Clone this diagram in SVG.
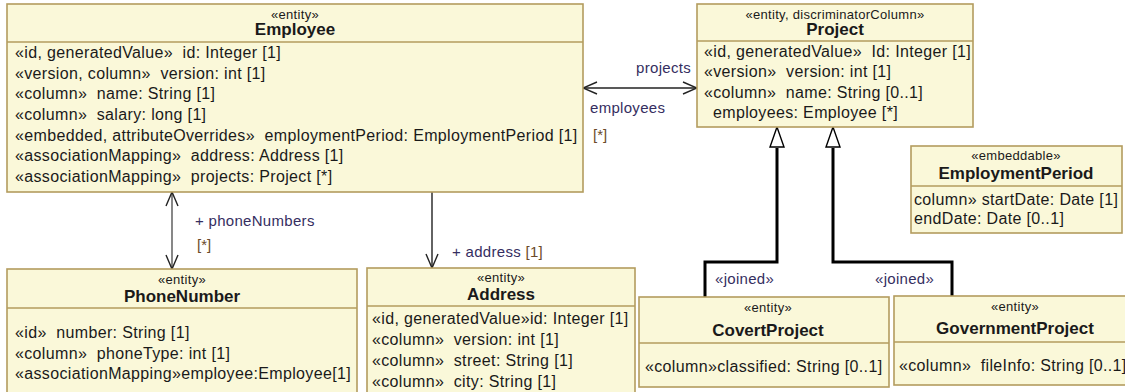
<svg xmlns="http://www.w3.org/2000/svg" width="1125" height="392" viewBox="0 0 1125 392" xml:space="preserve">
<style>
.box{fill:#FAF8D9;stroke:#B39C5E;stroke-width:1.6}
.sep{stroke:#B39C5E;stroke-width:1.4}
text{font-family:"Liberation Sans",Arial,sans-serif;fill:#1a1a1a;white-space:pre}
.st{font-size:13px;letter-spacing:0.3px;text-anchor:middle}
.ti{font-size:17px;font-weight:bold;text-anchor:middle}
.at{font-size:16px;letter-spacing:0.35px}
.lb{font-size:15px;fill:#352E5F;letter-spacing:0.3px}
.mu{font-size:15px;fill:#6B4A2A}
.assoc{stroke:#222;stroke-width:1.4;fill:none}
.gen{stroke:#000;stroke-width:3;fill:none}
</style>
<defs>
<marker id="open" viewBox="0 0 16 14" refX="15" refY="7" markerWidth="16" markerHeight="14" markerUnits="userSpaceOnUse" orient="auto-start-reverse">
<path d="M1,1 L15,7 L1,13" fill="none" stroke="#222" stroke-width="1.4"/>
</marker>
</defs>
<g id="connectors">
<line class="assoc" x1="583" y1="88" x2="697" y2="88" marker-start="url(#open)" marker-end="url(#open)"/>
<line class="assoc" x1="172" y1="192" x2="172" y2="269" marker-start="url(#open)" marker-end="url(#open)" style="stroke:#555"/>
<line class="assoc" x1="432" y1="192" x2="432" y2="268" marker-end="url(#open)"/>
<polyline class="gen" points="705,297 705,262 777,262 777,148"/>
<polyline class="gen" points="952,296 952,262 833,262 833,148"/>
<path d="M777,127 L770,147 L784,147 Z" fill="#fff" stroke="#000" stroke-width="1.4"/>
<path d="M833,127 L826,147 L840,147 Z" fill="#fff" stroke="#000" stroke-width="1.4"/>
<text class="lb" x="691" y="73" text-anchor="end">projects</text>
<text class="lb" x="590" y="113">employees</text>
<text class="mu" x="593" y="140">[*]</text>
<text class="lb" x="195" y="226">+ phoneNumbers</text>
<text class="mu" x="197" y="250">[*]</text>
<text class="lb" x="452" y="257">+ address <tspan style="fill:#6B4A2A">[1]</tspan></text>
<text class="lb" x="715" y="284">«joined»</text>
<text class="lb" x="875" y="284">«joined»</text>
</g>
<g id="Employee">
<rect class="box" x="7" y="4" width="576" height="188"/>
<line class="sep" x1="7" y1="42" x2="583" y2="42"/>
<text class="st" x="295" y="19">«entity»</text>
<text class="ti" x="295" y="35">Employee</text>
<text class="at" x="15" y="58">«id, generatedValue»  id: Integer [1]</text>
<text class="at" x="15" y="79">«version, column»  version: int [1]</text>
<text class="at" x="15" y="99">«column»  name: String [1]</text>
<text class="at" x="15" y="120">«column»  salary: long [1]</text>
<text class="at" x="15" y="141">«embedded, attributeOverrides»  employmentPeriod: EmploymentPeriod [1]</text>
<text class="at" x="15" y="161">«associationMapping»  address: Address [1]</text>
<text class="at" x="15" y="182">«associationMapping»  projects: Project [*]</text>
</g>
<g id="Project">
<rect class="box" x="697" y="4" width="276" height="123"/>
<line class="sep" x1="697" y1="41" x2="973" y2="41"/>
<text class="st" x="835" y="19">«entity, discriminatorColumn»</text>
<text class="ti" x="835" y="35">Project</text>
<text class="at" x="704" y="57">«id, generatedValue»  Id: Integer [1]</text>
<text class="at" x="704" y="77">«version»  version: int [1]</text>
<text class="at" x="704" y="98">«column»  name: String [0..1]</text>
<text class="at" x="713" y="118">employees: Employee [*]</text>
</g>
<g id="EmploymentPeriod">
<rect class="box" x="911" y="146" width="211" height="87"/>
<line class="sep" x1="911" y1="186" x2="1122" y2="186"/>
<text class="st" x="1016" y="160">«embeddable»</text>
<text class="ti" x="1016" y="179">EmploymentPeriod</text>
<text class="at" x="914" y="205">column» startDate: Date [1]</text>
<text class="at" x="914" y="224">endDate: Date [0..1]</text>
</g>
<g id="PhoneNumber">
<rect class="box" x="7" y="269" width="350" height="135"/>
<line class="sep" x1="7" y1="308" x2="357" y2="308"/>
<text class="st" x="182" y="284">«entity»</text>
<text class="ti" x="182" y="302">PhoneNumber</text>
<text class="at" x="15" y="338">«id»  number: String [1]</text>
<text class="at" x="15" y="359">«column»  phoneType: int [1]</text>
<text class="at" x="15" y="379">«associationMapping»employee:Employee[1]</text>
</g>
<g id="Address">
<rect class="box" x="367" y="268" width="268" height="135"/>
<line class="sep" x1="367" y1="306" x2="635" y2="306"/>
<text class="st" x="501" y="282">«entity»</text>
<text class="ti" x="501" y="300">Address</text>
<text class="at" x="372" y="324">«id, generatedValue»id: Integer [1]</text>
<text class="at" x="372" y="345">«column»  version: int [1]</text>
<text class="at" x="372" y="366">«column»  street: String [1]</text>
<text class="at" x="372" y="387">«column»  city: String [1]</text>
</g>
<g id="CovertProject">
<rect class="box" x="639" y="297" width="250" height="90"/>
<line class="sep" x1="639" y1="343" x2="889" y2="343"/>
<text class="st" x="768" y="312">«entity»</text>
<text class="ti" x="768" y="336">CovertProject</text>
<text class="at" x="645" y="372">«column»classified: String [0..1]</text>
</g>
<g id="GovernmentProject">
<rect class="box" x="894" y="296" width="242" height="89"/>
<line class="sep" x1="894" y1="342" x2="1136" y2="342"/>
<text class="st" x="1015" y="311">«entity»</text>
<text class="ti" x="1015" y="334">GovernmentProject</text>
<text class="at" x="899" y="371">«column»  fileInfo: String [0..1]</text>
</g>
</svg>
